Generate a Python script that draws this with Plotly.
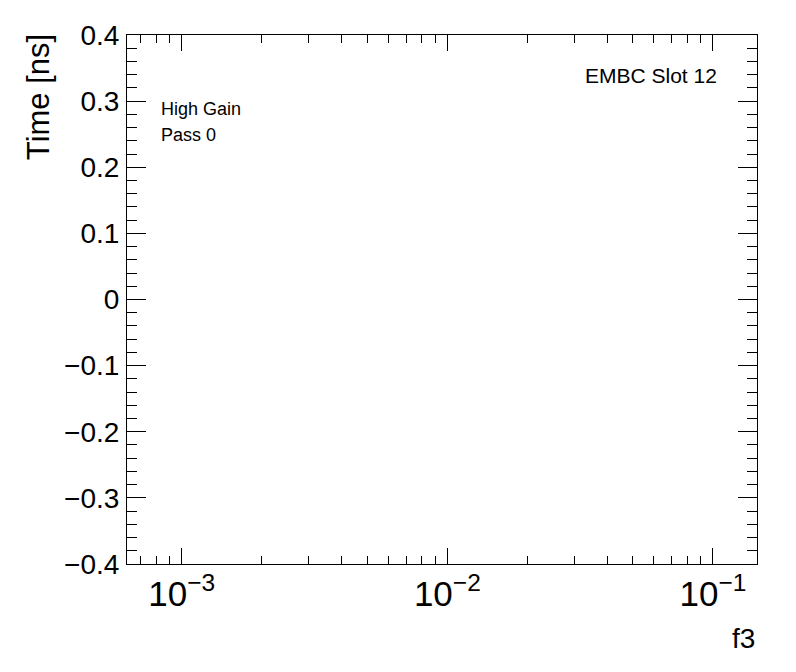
import plotly.graph_objects as go
import math

# Data (the reference chart is empty: no points plotted)
f3_values = []
time_values = []

x_range = [6.22e-4, 0.1466]
y_range = [-0.4, 0.4]
y_tick_vals = [-0.4, -0.3, -0.2, -0.1, 0.0, 0.1, 0.2, 0.3, 0.4]
y_tick_text = ["\u22120.4", "\u22120.3", "\u22120.2", "\u22120.1", "0", "0.1", "0.2", "0.3", "0.4"]

FONT = "Liberation Sans, Arial, Helvetica, sans-serif"

fig = go.Figure()
fig.add_trace(go.Scatter(x=f3_values, y=time_values, mode="markers",
                         marker=dict(color="black"), showlegend=False))

# page body adds an 8px margin, so the figure is shifted by 8px
fig.update_layout(
    width=788, height=664,
    margin=dict(l=119, r=39, t=25, b=108),
    paper_bgcolor="white", plot_bgcolor="white",
    font=dict(family=FONT, color="black"),
    showlegend=False,
)

fig.update_xaxes(
    type="log",
    range=[math.log10(x_range[0]), math.log10(x_range[1])],
    dtick=1, exponentformat="power", showexponent="all",
    showline=True, linecolor="black", linewidth=1, mirror="allticks",
    ticks="inside", ticklen=16, tickwidth=1, tickcolor="black",
    showgrid=False, zeroline=False,
    tickfont=dict(size=28, family=FONT),
    minor=dict(ticks="inside", ticklen=8, tickwidth=1, tickcolor="black",
               dtick="D1", showgrid=False),
)

fig.update_yaxes(
    range=y_range,
    tickvals=y_tick_vals, ticktext=y_tick_text,
    showline=True, linecolor="black", linewidth=1, mirror="allticks",
    ticks="inside", ticklen=19, tickwidth=1, tickcolor="black",
    showgrid=False, zeroline=False,
    tickfont=dict(size=28, family=FONT),
    ticklabelstandoff=1,
    minor=dict(ticks="inside", ticklen=10, tickwidth=1, tickcolor="black",
               dtick=0.02, tick0=0, showgrid=False),
)

# axis titles (ROOT style: aligned to the end of the axis)
fig.add_annotation(text="f3", xref="paper", yref="paper", x=1.0, y=-0.107,
                   xanchor="right", yanchor="top", showarrow=False,
                   font=dict(size=28, family=FONT, color="black"))
fig.add_annotation(text="Time [ns]", xref="paper", yref="paper", x=-0.14, y=1.005,
                   xanchor="center", yanchor="top", textangle=-90, showarrow=False,
                   font=dict(size=31, family=FONT, color="black"))

# labels
fig.add_annotation(text="High Gain", xref="paper", yref="paper", x=0.05, y=0.861,
                   xanchor="left", yanchor="middle", showarrow=False,
                   font=dict(size=18, family=FONT, color="black"))
fig.add_annotation(text="Pass 0", xref="paper", yref="paper", x=0.05, y=0.811,
                   xanchor="left", yanchor="middle", showarrow=False,
                   font=dict(size=18, family=FONT, color="black"))
fig.add_annotation(text="EMBC Slot 12", xref="paper", yref="paper", x=0.939, y=0.923,
                   xanchor="right", yanchor="middle", showarrow=False,
                   font=dict(size=21, family=FONT, color="black"))

fig.write_html("out.html")
